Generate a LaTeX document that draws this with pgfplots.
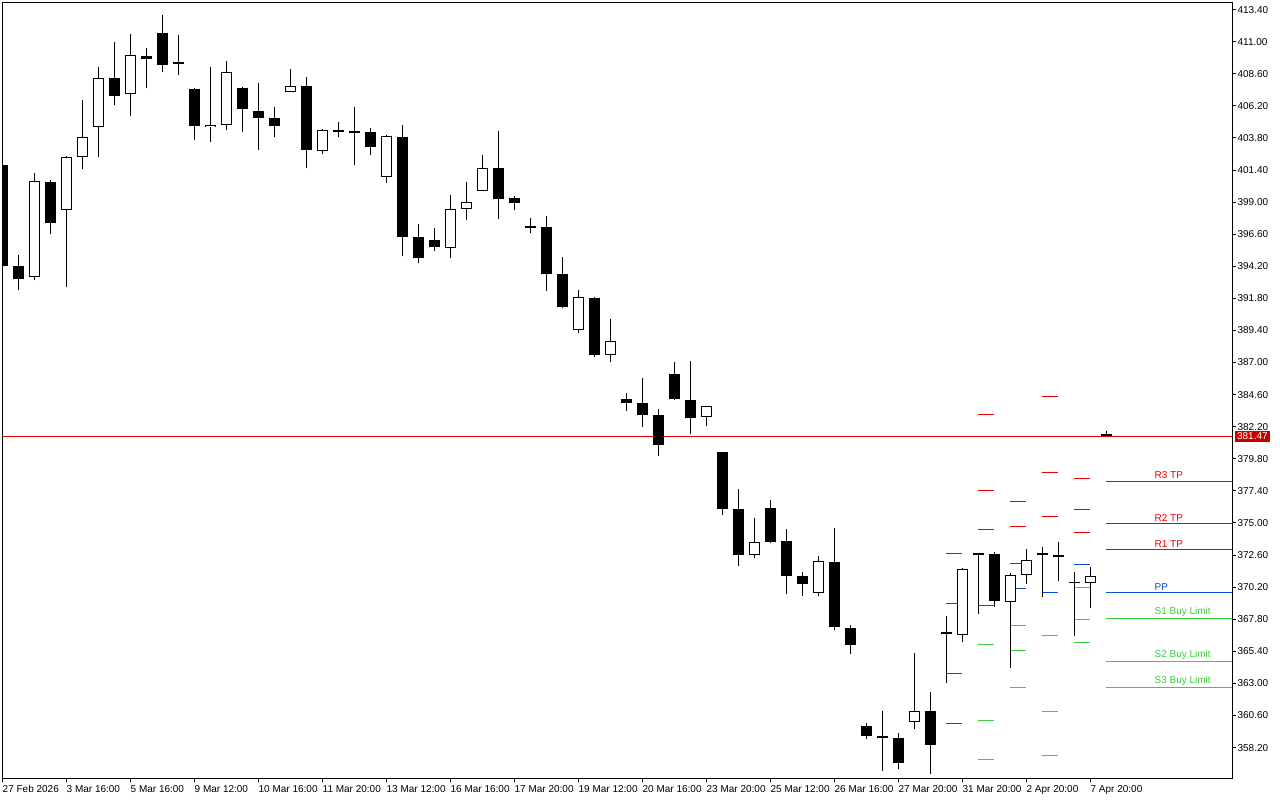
\documentclass[border=0pt]{standalone}
\usepackage{pgfplots}
\pgfplotsset{compat=1.18}
\usepackage{pgfplotstable}
\usepackage{fontspec}
\setmainfont{Liberation Sans}
\definecolor{mtred}{RGB}{240,0,0}
\definecolor{mtblue}{RGB}{10,80,210}
\definecolor{mtgreen}{RGB}{60,205,60}
\definecolor{pricebox}{RGB}{200,0,0}

% black (bearish) candles: i o h l c
\pgfplotstableread{
i o h l c
0 401.81 401.90 394.10 394.20
1 394.23 395.08 392.41 393.23
3 400.51 400.69 396.59 397.42
7 408.29 411.01 406.24 406.92
9 409.94 410.56 407.51 409.68
10 411.66 413.03 408.71 409.23
11 409.47 411.53 408.49 409.32
12 407.49 407.57 403.62 404.67
15 407.54 407.60 404.22 405.94
16 405.82 407.94 402.88 405.30
17 405.30 406.14 403.85 404.67
19 407.69 408.39 401.53 402.88
21 404.42 405.02 403.85 404.28
22 404.32 406.14 401.75 404.18
23 404.25 404.55 402.50 403.10
25 403.90 404.80 394.95 396.37
26 396.42 397.39 394.48 394.80
27 396.20 397.09 395.32 395.62
31 401.56 404.35 397.72 399.21
32 399.32 399.47 398.39 398.91
33 397.19 397.84 396.67 397.05
34 397.17 397.99 392.38 393.60
35 393.65 394.93 391.06 391.13
37 391.86 391.90 387.45 387.54
39 384.31 384.75 383.41 383.95
40 384.01 385.88 382.21 383.06
41 383.11 383.56 380.04 380.81
42 386.18 387.07 384.20 384.25
43 384.23 387.15 381.64 382.83
45 380.34 380.34 375.58 376.03
46 376.08 377.57 371.76 372.58
48 376.15 376.75 373.48 373.61
49 373.68 374.58 369.67 371.01
50 371.04 371.37 369.57 370.42
52 372.11 374.66 366.98 367.23
53 367.18 367.40 365.18 365.85
54 359.85 360.07 358.82 359.05
55 359.10 360.97 356.48 358.95
56 358.95 359.32 356.58 357.03
58 360.97 362.39 356.20 358.43
59 366.85 368.07 363.01 366.70
61 372.73 372.76 368.17 372.60
62 372.71 372.84 368.70 369.14
65 372.73 373.24 369.44 372.60
66 372.58 373.61 370.64 372.45
67 370.55 371.34 366.53 370.49
69 381.66 381.91 381.47 381.47
}\blk

% white (bullish) candles: i o h l c
\pgfplotstableread{
i o h l c
2 393.41 401.21 393.15 400.59
4 398.42 402.48 392.63 402.38
5 402.38 406.67 401.46 403.88
6 404.63 409.14 402.35 408.29
8 407.09 411.60 405.42 410.01
13 404.60 409.14 403.47 404.78
14 404.78 409.59 404.37 408.74
18 407.24 408.99 407.24 407.69
20 402.80 404.50 402.58 404.40
24 400.89 404.05 400.41 403.95
28 395.58 399.56 394.80 398.49
29 398.49 400.54 397.64 399.02
30 399.84 402.55 399.84 401.56
36 389.41 392.46 389.19 391.91
38 387.57 390.29 387.02 388.64
44 382.94 383.76 382.23 383.76
47 372.58 375.40 372.41 373.61
51 369.74 372.54 369.57 372.17
57 360.15 365.31 359.62 360.97
60 366.63 371.66 366.08 371.57
63 369.10 371.29 364.16 371.12
64 371.12 373.09 370.42 372.24
68 370.52 371.72 368.62 371.04
}\wht

% current price line
\pgfplotstableread{
x y
0 381.47
76.875 381.47
}\price

% pivot level segments
\pgfplotstableread{
x y
59 372.69
60 372.69
60 nan
59 368.95
60 368.95
60 nan
59 363.71
60 363.71
60 nan
61 383.11
62 383.11
62 nan
61 377.42
62 377.42
62 nan
61 374.48
62 374.48
62 nan
63 376.58
64 376.58
64 nan
63 374.73
64 374.73
64 nan
63 371.94
64 371.94
64 nan
65 384.45
66 384.45
66 nan
65 378.75
66 378.75
66 nan
65 375.46
66 375.46
66 nan
67 378.30
68 378.30
68 nan
67 375.98
68 375.98
68 nan
67 374.26
68 374.26
68 nan
69 378.10
76.875 378.10
76.875 nan
69 374.93
76.875 374.93
76.875 nan
69 372.99
76.875 372.99
}\redlv

\pgfplotstableread{
x y
59 359.97
60 359.97
60 nan
61 368.80
62 368.80
62 nan
63 370.07
64 370.07
64 nan
65 369.77
66 369.77
66 nan
67 371.87
68 371.87
68 nan
69 369.77
76.875 369.77
}\bluelv

\pgfplotstableread{
x y
61 365.88
62 365.88
62 nan
61 360.20
62 360.20
62 nan
61 357.28
62 357.28
62 nan
63 367.30
64 367.30
64 nan
63 365.43
64 365.43
64 nan
63 362.67
64 362.67
64 nan
65 366.56
66 366.56
66 nan
65 360.87
66 360.87
66 nan
65 357.58
66 357.58
66 nan
67 370.15
68 370.15
68 nan
67 367.75
68 367.75
68 nan
67 366.03
68 366.03
68 nan
69 367.83
76.875 367.83
76.875 nan
69 364.61
76.875 364.61
76.875 nan
69 362.67
76.875 362.67
}\greenlv

\pgfplotsset{
  candle/.style={only marks, mark=*, mark size=0pt, mark options={draw=none, fill=none}, forget plot,
    error bars/.cd, y dir=plus, y explicit, error mark=none},
}

\begin{document}
\begin{tikzpicture}
\useasboundingbox (-2.5pt,-21.5pt) rectangle (1277.5pt,778.5pt);
\begin{axis}[
  at={(0,0)}, anchor=south west,
  scale only axis, width=1230pt, height=776pt,
  xmin=0, xmax=76.875, ymin=355.89, ymax=413.93,
  clip mode=individual,
  axis line style={black, line width=1pt},
  tick style={black, line width=1pt},
  tick align=outside,
  major tick length=4pt,
  xtick pos=left, ytick pos=right,
  /pgf/number format/assume math mode=true,
  ticklabel style={font=\fontsize{10}{12}\selectfont},
  xtick={0,4,8,12,16,20,24,28,32,36,40,44,48,52,56,60,64,68},
  xticklabels={27 Feb 2026,3 Mar 16:00,5 Mar 16:00,9 Mar 12:00,10 Mar 16:00,11 Mar 20:00,13 Mar 12:00,16 Mar 16:00,17 Mar 20:00,19 Mar 12:00,20 Mar 16:00,23 Mar 20:00,25 Mar 12:00,26 Mar 16:00,27 Mar 20:00,31 Mar 20:00,2 Apr 20:00,7 Apr 20:00},
  xticklabel style={anchor=north west, inner sep=0pt, yshift=-2.5pt},
  ytick={358.2,360.6,363.0,365.4,367.8,370.2,372.6,375.0,377.4,379.8,382.2,384.6,387.0,389.4,391.8,394.2,396.6,399.0,401.4,403.8,406.2,408.6,411.0,413.4},
  yticklabel style={anchor=west, inner sep=0pt, xshift=1pt,
    /pgf/number format/.cd, fixed, fixed zerofill, precision=2},
  unbounded coords=jump,
]
% pivot levels
\addplot[draw=mtred, line width=1pt, forget plot] table[x=x,y=y] \redlv;
\addplot[draw=mtblue, line width=1pt, forget plot] table[x=x,y=y] \bluelv;
\addplot[draw=mtgreen, line width=1pt, forget plot] table[x=x,y=y] \greenlv;
% current price line
\addplot[draw=mtred, line width=1pt, forget plot] table[x=x,y=y] \price;
% wicks
\addplot[candle, error bar style={draw=black, line width=1pt}]
  table[x=i, y=l, y error plus expr=\thisrow{h}-\thisrow{l}] \blk;
\addplot[candle, error bar style={draw=black, line width=1pt}]
  table[x=i, y=l, y error plus expr=\thisrow{h}-\thisrow{l}] \wht;
% black bodies
\addplot[candle, error bar style={draw=black, line width=11pt}]
  table[x=i, y=c, y error plus expr=\thisrow{o}-\thisrow{c}] \blk;
% white bodies: outline then fill
\addplot[candle, error bar style={draw=black, line width=11pt}]
  table[x=i, y=o, y error plus expr=\thisrow{c}-\thisrow{o}] \wht;
\addplot[candle, error bar style={draw=white, line width=9pt, shorten <=1pt, shorten >=1pt}]
  table[x=i, y=o, y error plus expr=\thisrow{c}-\thisrow{o}] \wht;
% level labels
\begin{scope}[every node/.style={anchor=south west, inner sep=0pt, yshift=2.5pt, font=\fontsize{10}{12}\selectfont}]
\node[text=mtred] at (axis cs:72,378.10) {R3 TP};
\node[text=mtred] at (axis cs:72,374.93) {R2 TP};
\node[text=mtred] at (axis cs:72,372.99) {R1 TP};
\node[text=mtblue] at (axis cs:72,369.77) {PP};
\node[text=mtgreen] at (axis cs:72,367.83) {S1 Buy Limit};
\node[text=mtgreen] at (axis cs:72,364.61) {S2 Buy Limit};
\node[text=mtgreen] at (axis cs:72,362.67) {S3 Buy Limit};
\end{scope}
\node[fill=pricebox, text=white, anchor=west, inner xsep=2pt, inner ysep=1.5pt, xshift=2.5pt,
  font=\fontsize{10}{12}\selectfont] at (axis cs:76.875,381.47) {381.47};
\end{axis}
\end{tikzpicture}
\end{document}
